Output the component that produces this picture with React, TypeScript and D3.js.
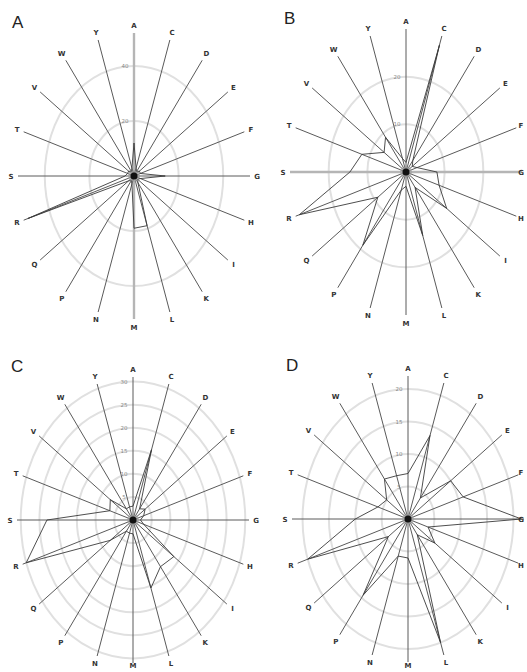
import React from "react";
import * as d3 from "d3";

// amino acid axes, clockwise from the top
const axes = ["A", "C", "D", "E", "F", "G", "H", "I", "K", "L", "M", "N", "P", "Q", "R", "S", "T", "V", "W", "Y"];

const valuesA = [12, 3, 2, 3, 3, 14, 3, 2, 3, 19, 19, 3, 2, 3, 50, 4, 3, 3, 2, 3];
const valuesB = [2, 28, 3, 2, 3, 8, 9, 13, 4, 14, 3, 4, 19, 9, 29, 14.5, 12, 7, 9, 3];
const valuesC = [3, 16, 3, 4, 3, 2, 3, 13.5, 12.5, 15.5, 3, 3, 3, 7.5, 30, 23, 6.5, 7.5, 3, 3];
const valuesD = [7, 13.5, 4, 10, 11, 21.5, 4, 6.3, 3, 20, 6, 6, 14.5, 4.6, 20, 10, 6, 5, 7.6, 7];

const ticksA = [20, 40];
const ticksB = [10, 20];
const ticksC = [5, 10, 15, 20, 25, 30];
const ticksD = [5, 10, 15, 20];

const panels = [
  { id: "A", cx: 134, cy: 176, max: 52, values: valuesA, ticks: ticksA, light: ["A", "M"] },
  { id: "B", cx: 406, cy: 172, max: 30, values: valuesB, ticks: ticksB, light: ["S", "G"] },
  { id: "C", cx: 133, cy: 520, max: 31, values: valuesC, ticks: ticksC, light: [] },
  { id: "D", cx: 408, cy: 519, max: 22, values: valuesD, ticks: ticksD, light: [] },
];

const RX = 116;
const RY = 143;

function Radar({ p }) {
  const angle = d3
    .scaleLinear()
    .domain([0, axes.length])
    .range([0, 2 * Math.PI]);
  const r = d3.scaleLinear().domain([0, p.max]).range([0, 1]);

  const px = (i, f) => p.cx + Math.sin(angle(i)) * f * RX;
  const py = (i, f) => p.cy - Math.cos(angle(i)) * f * RY;

  const line = d3
    .line()
    .x((d, i) => px(i, r(d)))
    .y((d, i) => py(i, r(d)))
    .curve(d3.curveLinearClosed);

  return (
    <g>
      <text x={p.cx - 122} y={p.cy - 148} fontSize={17} fontFamily="Liberation Sans, Arial, sans-serif" fill="#222">
        {p.id}
      </text>
      {p.ticks.map((t) => (
        <ellipse key={t} cx={p.cx} cy={p.cy} rx={r(t) * RX} ry={r(t) * RY} fill="none" stroke="#e0e0e0" strokeWidth={2} />
      ))}
      {axes.map((a, i) => {
        const lightAxis = p.light.includes(a);
        return (
          <line
            key={a}
            x1={p.cx}
            y1={p.cy}
            x2={px(i, 1)}
            y2={py(i, 1)}
            stroke={lightAxis ? "#b5b5b5" : "#5a5a5a"}
            strokeWidth={lightAxis ? 2.4 : 1}
          />
        );
      })}
      {p.ticks.map((t) => (
        <text
          key={"t" + t}
          x={p.cx - 9}
          y={p.cy - r(t) * RY + 2}
          fontSize={5.5}
          textAnchor="middle"
          fontFamily="DejaVu Sans, sans-serif"
          fill="#888"
        >
          {t}
        </text>
      ))}
      <path d={line(p.values)} fill="none" stroke="#3a3a3a" strokeWidth={0.9} strokeLinejoin="round" />
      {axes.map((a, i) => (
        <text
          key={"l" + a}
          x={Math.min(521, p.cx + Math.sin(angle(i)) * (RX + 7))}
          y={Math.min(668, p.cy - Math.cos(angle(i)) * (RY + 8) + 2.5)}
          fontSize={7}
          fontWeight="bold"
          textAnchor="middle"
          fontFamily="DejaVu Sans, sans-serif"
          fill="#333"
        >
          {a}
        </text>
      ))}
      <circle cx={p.cx} cy={p.cy} r={6} fill="#999" opacity={0.5} />
      <circle cx={p.cx} cy={p.cy} r={3.5} fill="#111" />
    </g>
  );
}

export default function App() {
  return (
    <svg
      width={527}
      height={672}
      style={{ position: "absolute", left: 0, top: 0, background: "white" }}
    >
      <rect width={527} height={672} fill="white" />
      {panels.map((p) => (
        <Radar key={p.id} p={p} />
      ))}
    </svg>
  );
}
